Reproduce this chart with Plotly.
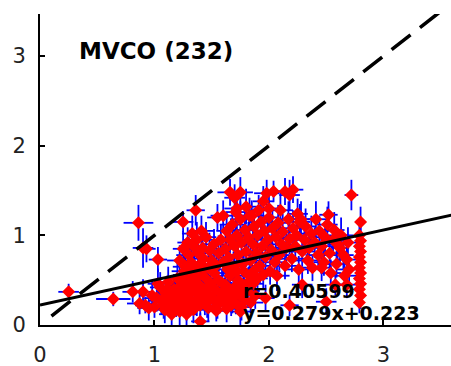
import plotly.graph_objects as go

# Observations as (x, y, x_err, y_err), grouped by region of the scatter
isolated = [
    (0.25, 0.37, 0.09, 0.09), (0.64, 0.29, 0.15, 0.08), (0.86, 1.14, 0.13, 0.20),
    (0.90, 0.86, 0.09, 0.22), (0.93, 0.85, 0.08, 0.15), (0.81, 0.37, 0.09, 0.12),
    (0.90, 0.37, 0.08, 0.14), (1.03, 0.73, 0.08, 0.14), (0.87, 0.24, 0.11, 0.12),
    (0.95, 0.19, 0.10, 0.14), (0.92, 0.22, 0.09, 0.09), (1.25, 1.15, 0.09, 0.12),
    (1.40, 0.04, 0.08, 0.09), (1.36, 1.28, 0.08, 0.17), (2.72, 1.45, 0.06, 0.17),
    (2.80, 1.15, 0.04, 0.17), (2.52, 1.23, 0.08, 0.15), (2.50, 0.26, 0.09, 0.15),
    (2.18, 0.22, 0.08, 0.12), (2.29, 0.45, 0.09, 0.15), (1.97, 0.30, 0.08, 0.15),
    (1.75, 0.15, 0.09, 0.17), (2.68, 0.45, 0.08, 0.15), (2.58, 0.45, 0.09, 0.12),
    (2.46, 0.64, 0.09, 0.15), (2.62, 0.86, 0.08, 0.17), (2.68, 0.73, 0.08, 0.20),
]

top_row = [
    (1.66, 1.48, 0.11, 0.15), (1.75, 1.48, 0.11, 0.17), (1.70, 1.42, 0.09, 0.15),
    (1.98, 1.47, 0.11, 0.15), (2.04, 1.49, 0.09, 0.12), (2.14, 1.49, 0.11, 0.15),
    (2.21, 1.51, 0.09, 0.15), (2.18, 1.45, 0.09, 0.17), (1.80, 1.32, 0.11, 0.20),
    (1.95, 1.38, 0.09, 0.17), (2.00, 1.30, 0.11, 0.15), (1.60, 1.22, 0.11, 0.17),
    (1.55, 1.20, 0.09, 0.15), (2.10, 1.28, 0.11, 0.20), (2.25, 1.24, 0.09, 0.17),
    (1.72, 1.30, 0.11, 0.15), (2.28, 1.18, 0.09, 0.20), (1.85, 1.22, 0.11, 0.17),
]

low_left = [
    (1.02, 0.30, 0.11, 0.15), (1.05, 0.42, 0.09, 0.17), (1.08, 0.22, 0.11, 0.15),
    (1.10, 0.35, 0.09, 0.12), (1.12, 0.48, 0.11, 0.17), (1.14, 0.27, 0.09, 0.15),
    (1.15, 0.18, 0.11, 0.12), (1.17, 0.40, 0.09, 0.17), (1.18, 0.33, 0.11, 0.15),
    (1.20, 0.52, 0.09, 0.17), (1.21, 0.24, 0.11, 0.12), (1.22, 0.15, 0.09, 0.15),
    (1.24, 0.38, 0.11, 0.17), (1.25, 0.29, 0.09, 0.15), (1.26, 0.46, 0.11, 0.20),
    (1.28, 0.20, 0.09, 0.15), (1.29, 0.56, 0.11, 0.17), (1.30, 0.34, 0.09, 0.15),
    (1.31, 0.42, 0.11, 0.17), (1.33, 0.26, 0.09, 0.12), (1.34, 0.17, 0.11, 0.15),
    (1.35, 0.50, 0.09, 0.17), (1.36, 0.37, 0.11, 0.15), (1.38, 0.30, 0.09, 0.12),
    (1.39, 0.45, 0.11, 0.17), (1.40, 0.22, 0.09, 0.15), (1.41, 0.60, 0.11, 0.20),
    (1.43, 0.35, 0.09, 0.15), (1.44, 0.28, 0.11, 0.17), (1.45, 0.52, 0.09, 0.15),
    (1.46, 0.41, 0.11, 0.17), (1.47, 0.19, 0.09, 0.15), (1.48, 0.33, 0.11, 0.12),
    (1.49, 0.47, 0.09, 0.17), (1.06, 0.27, 0.11, 0.15), (1.11, 0.40, 0.09, 0.15),
    (1.16, 0.31, 0.11, 0.17), (1.19, 0.21, 0.09, 0.12), (1.23, 0.44, 0.11, 0.15),
    (1.27, 0.36, 0.09, 0.17), (1.32, 0.48, 0.11, 0.15), (1.37, 0.25, 0.09, 0.15),
    (1.42, 0.39, 0.11, 0.17), (1.09, 0.17, 0.09, 0.15), (1.13, 0.36, 0.11, 0.12),
    (1.03, 0.46, 0.09, 0.17), (1.21, 0.30, 0.11, 0.15), (1.33, 0.40, 0.09, 0.15),
    (1.46, 0.25, 0.11, 0.17), (1.25, 0.55, 0.09, 0.15), (1.38, 0.55, 0.11, 0.17),
    (0.98, 0.33, 0.11, 0.15), (1.00, 0.20, 0.09, 0.12), (1.15, 0.12, 0.11, 0.15),
    (1.28, 0.12, 0.09, 0.12),
]

low_mid = [
    (1.51, 0.30, 0.11, 0.15), (1.53, 0.40, 0.09, 0.17), (1.55, 0.22, 0.11, 0.15),
    (1.56, 0.50, 0.09, 0.17), (1.58, 0.35, 0.11, 0.15), (1.60, 0.27, 0.09, 0.12),
    (1.62, 0.45, 0.11, 0.17), (1.63, 0.18, 0.09, 0.15), (1.65, 0.38, 0.11, 0.17),
    (1.66, 0.55, 0.09, 0.15), (1.68, 0.30, 0.11, 0.17), (1.70, 0.42, 0.09, 0.15),
    (1.71, 0.24, 0.11, 0.12), (1.73, 0.50, 0.09, 0.17), (1.74, 0.34, 0.11, 0.15),
    (1.76, 0.20, 0.09, 0.15), (1.78, 0.44, 0.11, 0.17), (1.79, 0.28, 0.09, 0.15),
    (1.81, 0.38, 0.11, 0.17), (1.83, 0.55, 0.09, 0.15), (1.84, 0.25, 0.11, 0.12),
    (1.86, 0.46, 0.09, 0.17), (1.88, 0.33, 0.11, 0.15), (1.90, 0.52, 0.09, 0.17),
    (1.52, 0.58, 0.11, 0.15), (1.57, 0.28, 0.09, 0.15), (1.61, 0.36, 0.11, 0.17),
    (1.67, 0.22, 0.09, 0.12), (1.72, 0.60, 0.11, 0.17), (1.77, 0.37, 0.09, 0.15),
    (1.82, 0.48, 0.11, 0.17), (1.59, 0.47, 0.09, 0.15), (1.64, 0.29, 0.11, 0.15),
    (1.69, 0.35, 0.09, 0.17), (1.54, 0.16, 0.11, 0.12),
]

mid_left = [
    (1.22, 0.72, 0.11, 0.17), (1.25, 0.85, 0.09, 0.20), (1.27, 0.65, 0.11, 0.15),
    (1.29, 0.92, 0.09, 0.17), (1.30, 0.78, 0.11, 0.20), (1.32, 0.70, 0.09, 0.15),
    (1.34, 0.88, 0.11, 0.17), (1.35, 0.62, 0.09, 0.15), (1.37, 0.95, 0.11, 0.20),
    (1.38, 0.80, 0.09, 0.17), (1.40, 0.68, 0.11, 0.15), (1.42, 0.86, 0.09, 0.20),
    (1.43, 0.74, 0.11, 0.17), (1.45, 0.98, 0.09, 0.17), (1.47, 0.64, 0.11, 0.15),
    (1.48, 0.83, 0.09, 0.20), (1.50, 0.72, 0.11, 0.17), (1.52, 0.90, 0.09, 0.17),
    (1.54, 0.66, 0.11, 0.15), (1.56, 0.80, 0.09, 0.20), (1.58, 0.95, 0.11, 0.17),
    (1.60, 0.70, 0.09, 0.15), (1.26, 0.60, 0.11, 0.17), (1.33, 1.02, 0.09, 0.20),
    (1.41, 1.05, 0.11, 0.17),
]

middle = [
    (1.62, 0.85, 0.11, 0.17), (1.63, 1.05, 0.09, 0.20), (1.65, 0.75, 0.11, 0.17),
    (1.66, 0.95, 0.09, 0.15), (1.68, 1.12, 0.11, 0.20), (1.69, 0.65, 0.09, 0.17),
    (1.70, 0.88, 0.11, 0.17), (1.72, 1.00, 0.09, 0.20), (1.73, 0.78, 0.11, 0.15),
    (1.75, 1.18, 0.09, 0.20), (1.76, 0.92, 0.11, 0.17), (1.77, 0.68, 0.09, 0.15),
    (1.79, 1.06, 0.11, 0.20), (1.80, 0.82, 0.09, 0.17), (1.82, 0.98, 0.11, 0.17),
    (1.83, 1.22, 0.09, 0.20), (1.84, 0.72, 0.11, 0.15), (1.86, 0.90, 0.09, 0.17),
    (1.87, 1.10, 0.11, 0.20), (1.89, 0.80, 0.09, 0.17), (1.90, 1.00, 0.11, 0.17),
    (1.92, 0.66, 0.09, 0.15), (1.93, 1.15, 0.11, 0.20), (1.94, 0.88, 0.09, 0.17),
    (1.96, 1.05, 0.11, 0.17), (1.97, 0.76, 0.09, 0.15), (1.99, 0.95, 0.11, 0.20),
    (2.00, 1.20, 0.09, 0.17), (2.02, 0.84, 0.11, 0.17), (2.03, 1.08, 0.09, 0.20),
    (2.05, 0.70, 0.11, 0.15), (2.06, 0.98, 0.09, 0.17), (2.08, 1.14, 0.11, 0.20),
    (2.09, 0.78, 0.09, 0.17), (2.11, 0.90, 0.11, 0.17), (2.12, 1.04, 0.09, 0.20),
    (2.14, 0.66, 0.11, 0.15), (2.15, 0.86, 0.09, 0.17), (2.17, 1.18, 0.11, 0.20),
    (2.18, 0.96, 0.09, 0.17), (2.20, 0.74, 0.11, 0.15), (2.21, 1.08, 0.09, 0.20),
    (2.23, 0.88, 0.11, 0.17), (2.24, 1.00, 0.09, 0.17), (2.26, 0.62, 0.11, 0.15),
    (2.27, 1.15, 0.09, 0.20), (2.29, 0.82, 0.11, 0.17), (1.64, 0.62, 0.09, 0.15),
    (1.78, 0.60, 0.11, 0.17), (1.88, 0.62, 0.09, 0.15), (1.95, 0.56, 0.11, 0.17),
    (2.01, 0.60, 0.09, 0.15), (2.07, 0.55, 0.11, 0.17), (1.71, 1.26, 0.09, 0.20),
    (1.91, 1.28, 0.11, 0.17),
]

right = [
    (2.31, 0.95, 0.11, 0.17), (2.32, 1.10, 0.09, 0.20), (2.34, 0.72, 0.11, 0.15),
    (2.35, 0.86, 0.09, 0.17), (2.37, 1.02, 0.11, 0.20), (2.38, 0.64, 0.09, 0.15),
    (2.40, 0.92, 0.11, 0.17), (2.41, 1.18, 0.09, 0.20), (2.43, 0.78, 0.11, 0.17),
    (2.44, 1.05, 0.09, 0.17), (2.46, 0.88, 0.11, 0.20), (2.48, 0.70, 0.09, 0.15),
    (2.49, 0.98, 0.11, 0.17), (2.51, 1.12, 0.09, 0.20), (2.53, 0.80, 0.11, 0.17),
    (2.54, 0.58, 0.09, 0.15), (2.56, 0.95, 0.11, 0.17), (2.57, 1.06, 0.09, 0.20),
    (2.59, 0.68, 0.11, 0.15), (2.60, 0.90, 0.09, 0.17), (2.63, 1.00, 0.11, 0.20),
    (2.65, 0.78, 0.09, 0.17), (2.66, 0.55, 0.11, 0.15), (2.69, 0.92, 0.09, 0.17),
    (2.70, 0.62, 0.11, 0.15),
]

edge_column = [
    (2.79, 0.25, 0.03, 0.12), (2.80, 0.33, 0.03, 0.15), (2.79, 0.40, 0.03, 0.15),
    (2.80, 0.46, 0.03, 0.17), (2.79, 0.52, 0.03, 0.15), (2.80, 0.58, 0.03, 0.17),
    (2.79, 0.64, 0.03, 0.15), (2.80, 0.70, 0.03, 0.17), (2.79, 0.76, 0.03, 0.15),
    (2.80, 0.82, 0.03, 0.17), (2.79, 0.88, 0.03, 0.15), (2.80, 0.94, 0.03, 0.17),
    (2.79, 1.00, 0.03, 0.15),
]

groups = [isolated, top_row, low_left, low_mid, mid_left, middle, right, edge_column]
points = [p for g in groups for p in g]
x_obs = [p[0] for p in points]
y_obs = [p[1] for p in points]
x_err = [p[2] for p in points]
y_err = [p[3] for p in points]

# Regression fit and 1:1 reference
slope, intercept, r_value = 0.279, 0.223, 0.40599
x_line = [0.0, 3.6]
y_fit = [slope * v + intercept for v in x_line]
x_one = [0.1, 3.6]

X_MAX, Y_MAX = 3.59, 3.47

fig = go.Figure()

fig.add_trace(go.Scatter(
    x=x_obs, y=y_obs, mode="markers",
    marker=dict(symbol="diamond", size=10, color="#ff0000", line=dict(width=0)),
    error_x=dict(type="data", array=x_err, color="#0000ff", thickness=1.8, width=0),
    error_y=dict(type="data", array=y_err, color="#0000ff", thickness=1.8, width=0),
    showlegend=False,
))

fig.add_trace(go.Scatter(
    x=x_one, y=x_one, mode="lines",
    line=dict(color="black", width=3.5, dash="24px,12px"),
    showlegend=False,
))

fig.add_trace(go.Scatter(
    x=x_line, y=y_fit, mode="lines",
    line=dict(color="black", width=3),
    showlegend=False,
))

bold = dict(family="DejaVu Sans", size=19, color="black", weight="bold")

fig.add_annotation(x=0.32, y=3.06, text="MVCO (232)", showarrow=False,
                   xanchor="left", yanchor="middle",
                   font=dict(family="DejaVu Sans", size=23, color="black", weight="bold"))
fig.add_annotation(x=1.76, y=0.38, text=f"r={r_value}", showarrow=False,
                   xanchor="left", yanchor="middle", font=bold)
fig.add_annotation(x=1.76, y=0.13, text=f"y={slope}x+{intercept}", showarrow=False,
                   xanchor="left", yanchor="middle", font=bold)

tick_font = dict(family="DejaVu Sans", size=21, color="#222222")

fig.update_layout(
    width=451, height=366,
    margin=dict(l=40, r=0, t=14, b=41),
    paper_bgcolor="white", plot_bgcolor="white",
    xaxis=dict(range=[0, X_MAX], tickvals=[0, 1, 2, 3], ticks="inside", ticklen=5,
               tickwidth=1.5, tickcolor="black", showline=True, linecolor="black",
               linewidth=2, showgrid=False, zeroline=False, tickfont=tick_font,
               ticklabelstandoff=10),
    yaxis=dict(range=[0, Y_MAX], tickvals=[0, 1, 2, 3], ticks="inside", ticklen=5,
               tickwidth=1.5, tickcolor="black", showline=True, linecolor="black",
               linewidth=2, showgrid=False, zeroline=False, tickfont=tick_font,
               ticklabelstandoff=8),
)

fig.write_html("out.html")
